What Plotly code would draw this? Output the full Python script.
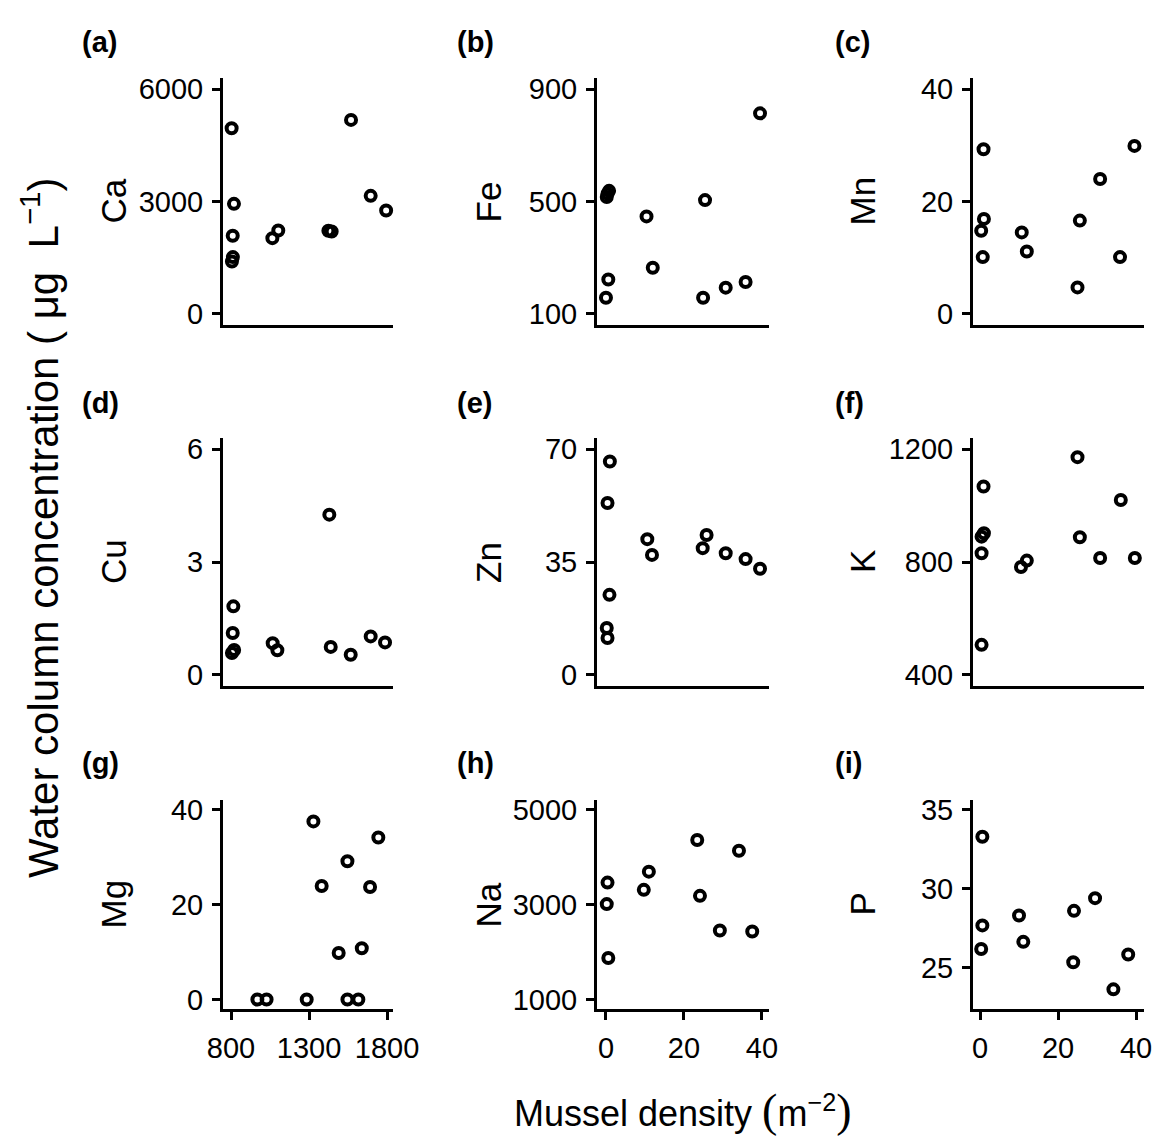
import plotly.graph_objects as go

# ---------------- data ----------------
ca_x = [804, 819, 811, 812, 806, 1065, 1103, 1424, 1445, 1569, 1695, 1794]
ca_y = [4958, 2937, 2083, 1514, 1397, 2021, 2225, 2220, 2200, 5180, 3151, 2759]

fe_x = [0.8, 0.2, 0.4, 0.6, 0.0, 10.4, 12.0, 25.4, 24.9, 30.7, 35.8, 39.5]
fe_y = [538, 516, 528, 222, 157, 447, 264, 505, 157, 193, 213, 814]

mn_x = [0.9, 1.0, 0.3, 0.7, 10.7, 12.0, 25.0, 25.6, 30.8, 35.9, 39.6]
mn_y = [29.3, 16.9, 14.8, 10.1, 14.5, 11.1, 4.7, 16.6, 24.0, 10.1, 29.9]

cu_x = [815, 811, 806, 820, 1067, 1097, 1430, 1439, 1567, 1695, 1787]
cu_y = [1.82, 1.11, 0.58, 0.66, 0.84, 0.65, 4.26, 0.74, 0.53, 1.02, 0.86]

zn_x = [1.0, 0.4, 0.9, 0.2, 0.4, 10.6, 11.8, 25.8, 24.8, 30.7, 35.8, 39.5]
zn_y = [66.2, 53.3, 24.8, 14.5, 11.4, 42.1, 37.2, 43.4, 39.3, 37.7, 35.9, 32.9]

k_x = [0.9, 1.0, 0.4, 0.4, 0.4, 10.5, 12.0, 25.0, 25.6, 30.8, 36.1, 39.7]
k_y = [1068, 902, 890, 831, 506, 782, 805, 1172, 888, 814, 1020, 814]

mg_x = [969, 1028, 1285, 1328, 1381, 1490, 1546, 1546, 1616, 1638, 1691, 1744]
mg_y = [0, 0, 0, 37.5, 23.9, 9.8, 29.1, 0, 0, 10.8, 23.7, 34.1]

na_x = [0.4, 0.2, 0.6, 9.7, 11.0, 23.4, 24.1, 29.2, 34.1, 37.5]
na_y = [3461, 3008, 1875, 3308, 3692, 4357, 3182, 2454, 4132, 2433]

p_x = [0.6, 0.6, 0.3, 10.0, 11.1, 24.1, 23.9, 29.5, 34.2, 38.0]
p_y = [33.28, 27.68, 26.19, 28.31, 26.64, 28.6, 25.35, 29.4, 23.64, 25.84]

elements = ["Ca", "Fe", "Mn", "Cu", "Zn", "K", "Mg", "Na", "P"]
tags = ["(a)", "(b)", "(c)", "(d)", "(e)", "(f)", "(g)", "(h)", "(i)"]
xs = [ca_x, fe_x, mn_x, cu_x, zn_x, k_x, mg_x, na_x, p_x]
ys = [ca_y, fe_y, mn_y, cu_y, zn_y, k_y, mg_y, na_y, p_y]

y_ticks = [[0, 3000, 6000], [100, 500, 900], [0, 20, 40],
           [0, 3, 6], [0, 35, 70], [400, 800, 1200],
           [0, 20, 40], [1000, 3000, 5000], [25, 30, 35]]
y_ranges = [[-300, 6300], [60, 940], [-2, 42],
            [-0.3, 6.3], [-3.5, 73.5], [360, 1240],
            [-2, 42], [800, 5200], [22.4, 35.6]]
x_ticks_col = [[800, 1300, 1800], [0, 20, 40], [0, 20, 40]]
x_ranges_col = [[748.7, 1838], [-2.3, 41.8], [-1.8, 42.05]]

# ---------------- layout geometry (pixels) ----------------
W, H = 1156, 1140
col_px = [(223, 393), (597, 769), (973, 1144)]
row_px = [(78, 325), (438, 686), (800, 1009)]
label_x = [113, 488, 862]
tag_x = [80, 455, 833]
tag_y = [42, 403, 763]

FONT = "Liberation Sans, Arial, sans-serif"

fig = go.Figure()
layout = dict(
    template="none",
    width=W, height=H, margin=dict(l=0, r=0, t=0, b=0, pad=0, autoexpand=False),
    plot_bgcolor="white", paper_bgcolor="white", showlegend=False,
    font=dict(family=FONT, color="black"),
)
annotations = []

for i in range(9):
    r, c = divmod(i, 3)
    n = i + 1
    xa = "xaxis" if n == 1 else f"xaxis{n}"
    ya = "yaxis" if n == 1 else f"yaxis{n}"
    xref = "x" if n == 1 else f"x{n}"
    yref = "y" if n == 1 else f"y{n}"

    fig.add_trace(go.Scatter(
        x=xs[i], y=ys[i], mode="markers", xaxis=xref, yaxis=yref,
        marker=dict(symbol="circle-open", size=10, color="black",
                    line=dict(width=4, color="black")),
        cliponaxis=False,
    ))

    x0, x1 = col_px[c]
    y0, y1 = row_px[r]
    bottom = (r == 2)
    layout[xa] = dict(
        domain=[x0 / W, x1 / W], range=x_ranges_col[c], anchor=yref,
        automargin=False,
        showline=True, linecolor="black", linewidth=3, mirror=False,
        showgrid=False, zeroline=False,
        ticks="outside" if bottom else "", ticklen=8, tickwidth=2.5, tickcolor="black",
        tickmode="array",
        tickvals=x_ticks_col[c] if bottom else [], showticklabels=bottom,
        ticklabelstandoff=3,
        tickfont=dict(size=29, family=FONT, color="black"),
        fixedrange=True,
    )
    layout[ya] = dict(
        domain=[1 - y1 / H, 1 - y0 / H], range=y_ranges[i], anchor=xref,
        automargin=False,
        showline=True, linecolor="black", linewidth=3,
        showgrid=False, zeroline=False,
        ticks="outside", ticklen=8, tickwidth=2.5, tickcolor="black",
        tickmode="array", tickvals=y_ticks[i], ticklabelstandoff=3,
        tickfont=dict(size=29, family=FONT, color="black"),
        fixedrange=True,
    )

    # element label
    annotations.append(dict(
        text=elements[i], x=label_x[c] / W, y=1 - ((y0 + y1) / 2) / H,
        xref="paper", yref="paper", showarrow=False, textangle=-90,
        xanchor="center", yanchor="middle",
        font=dict(size=35, family=FONT, color="black"),
    ))
    # panel tag
    annotations.append(dict(
        text=f"<b>{tags[i]}</b>", x=tag_x[c] / W, y=1 - tag_y[r] / H,
        xref="paper", yref="paper", showarrow=False,
        xanchor="left", yanchor="middle",
        font=dict(size=29, family=FONT, color="black"),
    ))

annotations.append(dict(
    text="Water column concentration ( μg  L<sup>−1</sup>)",
    x=40 / W, y=1 - 528 / H, xref="paper", yref="paper", showarrow=False,
    textangle=-90, xanchor="center", yanchor="middle",
    font=dict(size=42, family=FONT, color="black"),
))
annotations.append(dict(
    text=("Mussel density "
          "<span style='font-family:Liberation Serif;font-size:46px'>(</span>"
          "m<sup>−2</sup>"
          "<span style='font-family:Liberation Serif;font-size:46px'>)</span>"),
    x=682 / W, y=1 - 1110 / H, xref="paper", yref="paper", showarrow=False,
    xanchor="center", yanchor="middle",
    font=dict(size=36, family=FONT, color="black"),
))

layout["annotations"] = annotations
fig.update_layout(**layout)
fig.write_html("out.html", post_script="document.body.style.margin='0px';",
               config={"displayModeBar": False})
